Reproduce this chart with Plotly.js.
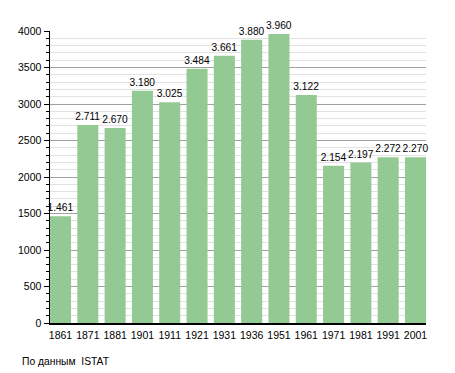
<!DOCTYPE html>
<html>
<head>
<meta charset="utf-8">
<script src="https://cdn.plot.ly/plotly-3.0.1.min.js"></script>
<style>html,body{margin:0;padding:0;background:#fff}#chart{width:455px;height:373px}</style>
</head>
<body>
<div id="chart"></div>
<script>
const years = ["1861","1871","1881","1901","1911","1921","1931","1936","1951","1961","1971","1981","1991","2001"];
const population = [1461, 2711, 2670, 3180, 3025, 3484, 3661, 3880, 3960, 3122, 2154, 2197, 2272, 2270];
const valueLabels = ["1.461","2.711","2.670","3.180","3.025","3.484","3.661","3.880","3.960","3.122","2.154","2.197","2.272","2.270"];
const sourceNote = "По данным  ISTAT";

const barWidth = 0.77;
const trace = {
  type: 'bar',
  x: years.map((_, i) => i),
  y: population,
  text: valueLabels,
  textposition: 'outside',
  constraintext: 'none',
  cliponaxis: false,
  textfont: {family: 'Liberation Sans, Arial, sans-serif', size: 10.2, color: '#000'},
  marker: {color: '#93ca93', line: {width: 0}},
  width: barWidth,
  hoverinfo: 'none'
};

const layout = {
  width: 455, height: 373,
  margin: {l: 50, r: 29, t: 31, b: 49.5},
  paper_bgcolor: '#fff', plot_bgcolor: '#fff',
  font: {family: 'Liberation Sans, Arial, sans-serif', size: 10.5, color: '#000'},
  showlegend: false,
  xaxis: {
    range: [-barWidth / 2, years.length - 1 + barWidth / 2],
    tickmode: 'array',
    tickvals: years.map((_, i) => i),
    ticktext: years,
    showgrid: false,
    showline: true, linecolor: '#000', linewidth: 1.5,
    ticks: 'outside', ticklen: 2, tickcolor: 'rgba(0,0,0,0)', zeroline: false,
    fixedrange: true
  },
  yaxis: {
    range: [0, 4000],
    dtick: 500,
    showgrid: true, gridcolor: '#a0a0a0', gridwidth: 1,
    showline: true, linecolor: '#000', linewidth: 1.5,
    ticks: 'outside', ticklen: 5, tickcolor: '#000', tickwidth: 1,
    zeroline: false,
    minor: {dtick: 100, showgrid: true, gridcolor: '#e2e2e2', gridwidth: 1, ticks: 'outside', ticklen: 3, tickcolor: '#000'},
    fixedrange: true
  },
  annotations: [{
    text: sourceNote,
    xref: 'paper', yref: 'paper',
    x: -30 / 375.5, y: -38.5 / 292.5,
    xanchor: 'left', yanchor: 'middle',
    showarrow: false,
    font: {family: 'Liberation Sans, Arial, sans-serif', size: 10.3, color: '#000'}
  }],
  bargap: 0.23
};

Plotly.newPlot('chart', [trace], layout, {staticPlot: true, displayModeBar: false});
</script>
</body>
</html>
